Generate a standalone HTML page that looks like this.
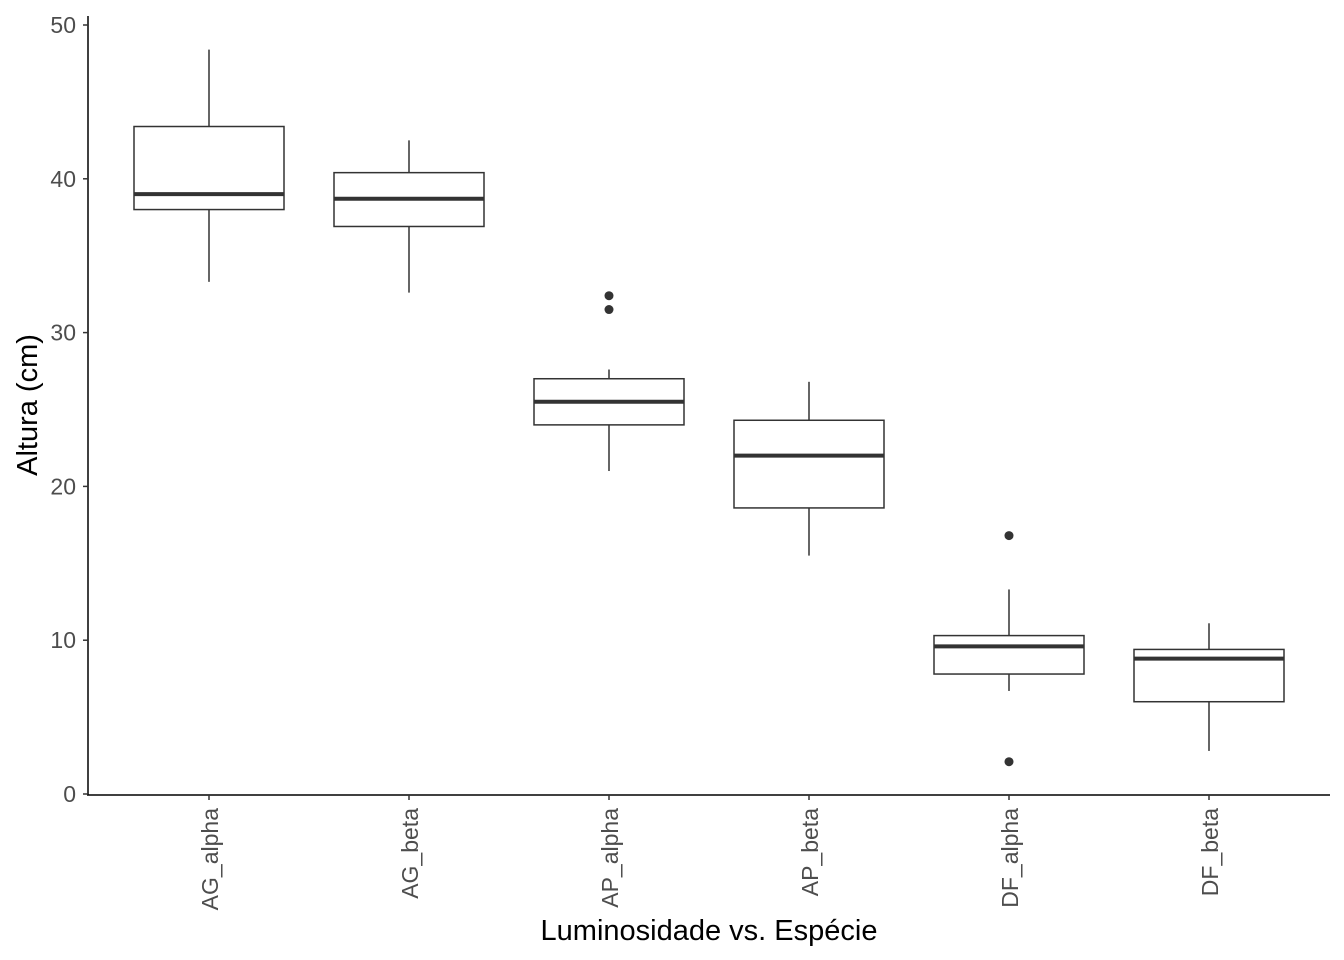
<!DOCTYPE html>
<html><head><meta charset="utf-8"><style>
html,body{margin:0;padding:0;background:#fff;}
svg{display:block;font-family:"Liberation Sans",Arial,sans-serif;}
</style></head><body>
<svg id="chart" width="1344" height="960" viewBox="0 0 1344 960">
<g id="axes"></g>
<g id="marks"></g>
<text transform="translate(37,405) rotate(-90)" text-anchor="middle" font-size="29" fill="#000">Altura (cm)</text>
<text x="709" y="940" text-anchor="middle" font-size="29" fill="#000">Luminosidade vs. Espécie</text>
</svg>
<script>
const categories=["AG_alpha","AG_beta","AP_alpha","AP_beta","DF_alpha","DF_beta"];
const lowerWhisker=[33.3,32.6,21.0,15.5,6.7,2.8];
const q1=[38.0,36.9,24.0,18.6,7.8,6.0];
const median=[39.0,38.7,25.5,22.0,9.6,8.8];
const q3=[43.4,40.4,27.0,24.3,10.3,9.4];
const upperWhisker=[48.4,42.5,27.6,26.8,13.3,11.1];
const outliers=[[],[],[32.4,31.5],[],[16.8,2.1],[]];
const yTicks=[0,10,20,30,40,50];

const NS="http://www.w3.org/2000/svg";
const y=v=>794-v*15.38;
const x=i=>209+i*200;
const half=75;
function mk(tag,attrs,parent){const e=document.createElementNS(NS,tag);for(const k in attrs)e.setAttribute(k,attrs[k]);parent.appendChild(e);return e;}
const axes=document.getElementById('axes'),marks=document.getElementById('marks');
let e=mk('line',{x1:88,y1:16,x2:88,y2:795,stroke:'#000','stroke-width':1.5},axes);


e=mk('line',{x1:87,y1:795,x2:1330,y2:795,stroke:'#000','stroke-width':1.5},axes);


yTicks.forEach(t=>{
 let l=mk('line',{x1:83,x2:88,y1:y(t),y2:y(t),stroke:'#333','stroke-width':1.5},axes);
 
 
 let tx=mk('text',{x:76,y:y(t)+8,'text-anchor':'end','font-size':23,fill:'#4d4d4d'},axes);
 tx.textContent=t;
 
 
});
categories.forEach((c,i)=>{
 const cx=x(i);
 let l=mk('line',{x1:cx,x2:cx,y1:795,y2:800,stroke:'#333','stroke-width':1.5},axes);
 
 
 let tx=mk('text',{transform:`translate(${cx+9},808) rotate(-90)`,'text-anchor':'end','font-size':23,fill:'#4d4d4d'},axes);
 tx.textContent=c;
 
 
 const g=mk('g',{},marks);
 
 
 mk('line',{x1:cx,x2:cx,y1:y(upperWhisker[i]),y2:y(q3[i]),stroke:'#333','stroke-width':1.5},g);
 mk('line',{x1:cx,x2:cx,y1:y(q1[i]),y2:y(lowerWhisker[i]),stroke:'#333','stroke-width':1.5},g);
 mk('rect',{x:cx-half,y:y(q3[i]),width:2*half,height:y(q1[i])-y(q3[i]),fill:'#fff',stroke:'#333','stroke-width':1.5},g);
 mk('line',{x1:cx-half,x2:cx+half,y1:y(median[i]),y2:y(median[i]),stroke:'#333','stroke-width':4},g);
 outliers[i].forEach(v=>{
  let p=mk('circle',{cx:cx,cy:y(v),r:4.5,fill:'#333'},g);
  
  
 });
});
</script>
</body></html>
